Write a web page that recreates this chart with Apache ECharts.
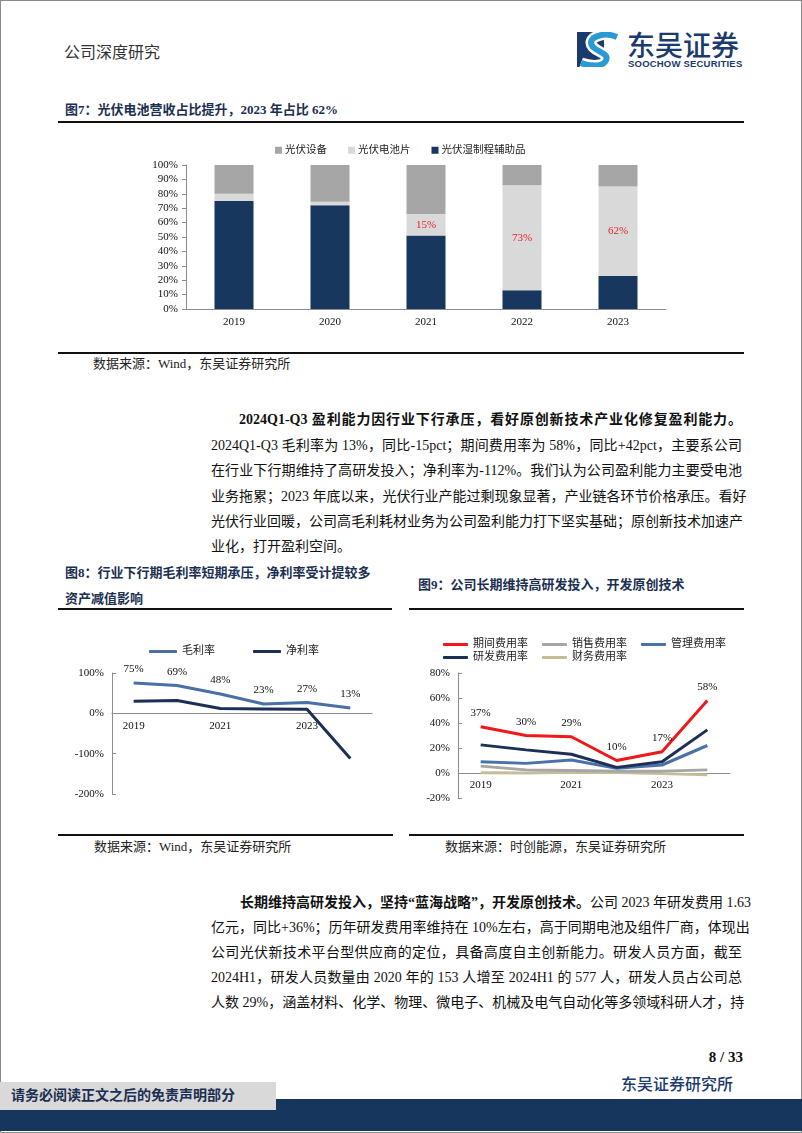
<!DOCTYPE html>
<html><head><meta charset="utf-8">
<script src="https://cdn.jsdelivr.net/npm/echarts@6/dist/echarts.min.js"></script>
<style>
html,body{margin:0;padding:0;background:#fff;}
body{width:802px;height:1133px;position:relative;overflow:hidden;font-family:"Liberation Serif","Times New Roman","Noto Sans CJK SC",serif;color:#111;}
.abs{position:absolute;white-space:nowrap;}
.frame{position:absolute;left:0;top:0;width:800px;height:1131px;border:1px solid #8a8a8a;}
.title{font-weight:bold;color:#1b2f52;font-size:13px;line-height:18px;}
.rule{position:absolute;background:#111;}
.src{font-size:13px;line-height:18px;color:#222;}
.p{position:absolute;left:211px;width:531px;font-size:14px;line-height:20px;white-space:nowrap;text-align:justify;text-align-last:justify;color:#111;}
.p.ind{left:239px;width:503px;}
.p.last{text-align-last:left;}
.chart{position:absolute;}
</style></head>
<body>
<div class="frame"></div>
<!-- header -->
<div class="abs" style="left:64px;top:43px;font-size:16px;line-height:20px;color:#333;">公司深度研究</div>
<svg class="abs" style="left:577px;top:32px" width="44" height="35" viewBox="0 0 44 35">
  <rect x="0" y="0" width="27" height="35" fill="#1b3a6e"/>
  <path d="M40 5 C26 -1 8 6 16 15 C22 21 34 22 28 30 C24 35 12 34 4 31" fill="none" stroke="#ffffff" stroke-width="11"/>
  <path d="M40 5 C26 -1 8 6 16 15 C22 21 34 22 28 30 C24 35 12 34 4 31" fill="none" stroke="#2a9ad6" stroke-width="6"/>
</svg>
<div class="abs" style="left:627px;top:28px;font-size:28px;line-height:32px;color:#1b3a6e;font-family:'Noto Sans CJK SC';font-weight:500;letter-spacing:0px;">东吴证券</div>
<div class="abs" style="left:628px;top:58px;font-size:9.5px;line-height:11px;color:#1b3a6e;font-family:'Liberation Sans',Arial;font-weight:bold;letter-spacing:0.2px;">SOOCHOW SECURITIES</div>

<!-- fig 7 -->
<div class="abs title" style="left:65px;top:101px;">图7：光伏电池营收占比提升，2023 年占比 62%</div>
<div class="rule" style="left:58px;top:121px;width:686px;height:2px;"></div>
<div id="c7" class="chart" style="left:0;top:130px;width:802px;height:210px;"></div>
<div class="rule" style="left:58px;top:352px;width:686px;height:1.5px;"></div>
<div class="abs src" style="left:93px;top:355px;">数据来源：Wind，东吴证券研究所</div>

<!-- paragraph 1 -->
<div class="p ind" style="top:410px;"><b>2024Q1-Q3 盈利能力因行业下行承压，看好原创新技术产业化修复盈利能力。</b></div>
<div class="p" style="top:436px;">2024Q1-Q3 毛利率为 13%，同比-15pct；期间费用率为 58%，同比+42pct，主要系公司</div>
<div class="p" style="top:461px;">在行业下行期维持了高研发投入；净利率为-112%。我们认为公司盈利能力主要受电池</div>
<div class="p" style="top:487px;">业务拖累；2023 年底以来，光伏行业产能过剩现象显著，产业链各环节价格承压。看好</div>
<div class="p" style="top:512px;">光伏行业回暖，公司高毛利耗材业务为公司盈利能力打下坚实基础；原创新技术加速产</div>
<div class="p last" style="top:537px;">业化，打开盈利空间。</div>

<!-- fig 8 / 9 titles -->
<div class="abs title" style="left:65px;top:564px;">图8：行业下行期毛利率短期承压，净利率受计提较多</div>
<div class="abs title" style="left:65px;top:590px;">资产减值影响</div>
<div class="abs title" style="left:418px;top:576px;">图9：公司长期维持高研发投入，开发原创技术</div>
<div class="rule" style="left:58px;top:608px;width:334px;height:1.5px;"></div>
<div class="rule" style="left:409px;top:608px;width:335px;height:1.5px;"></div>
<div id="c8" class="chart" style="left:0;top:620px;width:410px;height:200px;"></div>
<div id="c9" class="chart" style="left:410px;top:620px;width:392px;height:200px;"></div>
<div class="rule" style="left:58px;top:834px;width:335px;height:1.5px;"></div>
<div class="rule" style="left:409px;top:834px;width:335px;height:1.5px;"></div>
<div class="abs src" style="left:94px;top:838px;">数据来源：Wind，东吴证券研究所</div>
<div class="abs src" style="left:445px;top:838px;">数据来源：时创能源，东吴证券研究所</div>

<!-- paragraph 2 -->
<div class="p ind" style="top:893px;left:240px;width:502px;"><b>长期维持高研发投入，坚持“蓝海战略”，开发原创技术。</b>公司 2023 年研发费用 1.63</div>
<div class="p" style="top:918px;">亿元，同比+36%；历年研发费用率维持在 10%左右，高于同期电池及组件厂商，体现出</div>
<div class="p" style="top:943px;">公司光伏新技术平台型供应商的定位，具备高度自主创新能力。研发人员方面，截至</div>
<div class="p" style="top:968px;">2024H1，研发人员数量由 2020 年的 153 人增至 2024H1 的 577 人，研发人员占公司总</div>
<div class="p" style="top:993px;">人数 29%，涵盖材料、化学、物理、微电子、机械及电气自动化等多领域科研人才，持</div>

<!-- footer -->
<div class="abs" style="right:59px;top:1047px;font-size:15px;line-height:20px;font-weight:bold;color:#111;">8 / 33</div>
<div class="abs" style="left:621px;top:1075px;font-size:16px;line-height:20px;color:#1b3a6e;font-weight:500;">东吴证券研究所</div>
<div class="abs" style="left:0;top:1099px;width:802px;height:32px;background:#17365d;"></div>
<div class="abs" style="left:0;top:1082px;width:276px;height:28px;background:#d9d9d9;"></div>
<div class="abs" style="left:11px;top:1086px;font-size:14px;line-height:20px;color:#1b2f52;font-weight:bold;">请务必阅读正文之后的免责声明部分</div>

<script>
// ---------- data ----------
const years7 = ['2019', '2020', '2021', '2022', '2023'];
const wetShare = [75, 72, 51, 13, 23];      // 光伏湿制程辅助品
const cellShare = [5, 2.5, 15, 73, 62];     // 光伏电池片
const equipShare = [20, 25.5, 34, 14, 15];  // 光伏设备
const cellLabelShown = [false, false, true, true, true];

const years8 = ['2019', '2020', '2021', '2022', '2023', '2024Q1-Q3'];
const grossMargin = [75, 69, 48, 23, 27, 13];
const netMargin = [30, 32, 12, 11, 10, -112];
const ticks8 = [-200, 100, 100]; // min, max, interval

const years9 = ['2019', '2020', '2021', '2022', '2023', '2024Q1-Q3'];
const periodRate = [37, 30, 29, 10, 17, 58];
const salesRate = [5.5, 2.5, 2, 1.5, 1.5, 2.5];
const adminRate = [9, 7.7, 10.4, 3.7, 6.4, 22];
const rdRate = [22.5, 18.5, 15, 4.5, 9, 34.5];
const finRate = [0.2, 0, 0.5, 0.3, -0.5, -1.5];
const ticks9 = [-20, 80, 20];

// ---------- style ----------
const FONT = '"Liberation Serif", "Times New Roman", "Noto Sans CJK SC", serif';
const AX = '#8c8c8c';
const txt = { fontFamily: FONT, color: '#111', fontSize: 11 };
// offset that puts a bottom category axis on the value 0 of the value axis
const zeroOffset = (gridH, t) => -gridH * (0 - t[0]) / (t[1] - t[0]);

// ---------- chart 7 ----------
const c7 = echarts.init(document.getElementById('c7'));
c7.setOption({
  animation: false,
  textStyle: { fontFamily: FONT },
  legend: {
    data: ['光伏设备', '光伏电池片', '光伏湿制程辅助品'],
    left: 270, top: 10, itemWidth: 7, itemHeight: 7, itemGap: 21, icon: 'rect',
    textStyle: { fontFamily: FONT, fontSize: 10.5, color: '#222', padding: [0, 0, 0, -2] }
  },
  grid: { left: 186, top: 35, width: 480, height: 144 },
  xAxis: {
    type: 'category', data: years7,
    axisLine: { lineStyle: { color: AX } },
    axisTick: { inside: true, length: 4, lineStyle: { color: AX } },
    axisLabel: Object.assign({ margin: 8 }, txt)
  },
  yAxis: {
    type: 'value', min: 0, max: 100, interval: 10,
    axisLine: { show: true, lineStyle: { color: AX } },
    axisTick: { show: true, length: 4, lineStyle: { color: AX } },
    splitLine: { show: false },
    axisLabel: Object.assign({ formatter: '{value}%', margin: 8 }, txt)
  },
  series: [
    { name: '光伏湿制程辅助品', type: 'bar', stack: 's', data: wetShare, barWidth: 39, itemStyle: { color: '#17375e' } },
    { name: '光伏电池片', type: 'bar', stack: 's', data: cellShare, barWidth: 39, itemStyle: { color: '#d9d9d9' },
      label: { show: true, position: 'inside', fontFamily: FONT, fontSize: 11, color: '#e3262d',
        formatter: p => cellLabelShown[p.dataIndex] ? p.value + '%' : '' } },
    { name: '光伏设备', type: 'bar', stack: 's', data: equipShare, barWidth: 39, itemStyle: { color: '#a6a6a6' } }
  ]
});

// ---------- chart 8 ----------
const c8 = echarts.init(document.getElementById('c8'));
const g8 = { left: 112, top: 53, width: 260, height: 121 };
c8.setOption({
  animation: false,
  legend: {
    data: ['毛利率', '净利率'], left: 144, top: 21, icon: 'roundRect',
    itemWidth: 28, itemHeight: 3, itemGap: 38,
    textStyle: { fontFamily: FONT, fontSize: 11, color: '#222' }
  },
  grid: g8,
  xAxis: {
    type: 'category', data: years8, position: 'bottom', offset: zeroOffset(g8.height, ticks8),
    axisLine: { onZero: false, lineStyle: { color: AX } },
    axisTick: { inside: true, length: 4, interval: 0, lineStyle: { color: AX } },
    axisLabel: Object.assign({ interval: 1, margin: 7 }, txt)
  },
  yAxis: {
    type: 'value', min: ticks8[0], max: ticks8[1], interval: ticks8[2],
    axisLine: { show: true, lineStyle: { color: AX } },
    axisTick: { show: true, inside: true, length: 4, lineStyle: { color: AX } },
    splitLine: { show: false },
    axisLabel: Object.assign({ formatter: '{value}%', margin: 8 }, txt)
  },
  series: [
    { name: '毛利率', type: 'line', data: grossMargin, symbol: 'circle', symbolSize: 0.01, showSymbol: true,
      lineStyle: { width: 3, color: '#4a6fa5' }, itemStyle: { color: '#4a6fa5' },
      label: { show: true, position: 'top', distance: 8, fontFamily: FONT, fontSize: 11, color: '#111', formatter: '{c}%' } },
    { name: '净利率', type: 'line', data: netMargin, symbol: 'none', lineStyle: { width: 3, color: '#1c3055' },
      itemStyle: { color: '#1c3055' } }
  ]
});

// ---------- chart 9 ----------
const c9 = echarts.init(document.getElementById('c9'));
const g9 = { left: 48, top: 53, width: 272, height: 125 };
const legStyle = { fontFamily: FONT, fontSize: 11, color: '#222' };
c9.setOption({
  animation: false,
  legend: [
    { data: ['期间费用率', '销售费用率', '管理费用率'], left: 28, top: 14, icon: 'roundRect', itemWidth: 25, itemHeight: 3, itemGap: 14, textStyle: legStyle },
    { data: ['研发费用率', '财务费用率'], left: 28, top: 27, icon: 'roundRect', itemWidth: 25, itemHeight: 3, itemGap: 14, textStyle: legStyle }
  ],
  grid: g9,
  xAxis: {
    type: 'category', data: years9, position: 'bottom', offset: zeroOffset(g9.height, ticks9),
    axisLine: { onZero: false, lineStyle: { color: AX } },
    axisTick: { inside: true, length: 4, interval: 0, lineStyle: { color: AX } },
    axisLabel: Object.assign({ interval: 1, margin: 7 }, txt)
  },
  yAxis: {
    type: 'value', min: ticks9[0], max: ticks9[1], interval: ticks9[2],
    axisLine: { show: true, lineStyle: { color: AX } },
    axisTick: { show: true, inside: true, length: 4, lineStyle: { color: AX } },
    splitLine: { show: false },
    axisLabel: Object.assign({ formatter: '{value}%', margin: 8 }, txt)
  },
  series: [
    { name: '财务费用率', type: 'line', data: finRate, symbol: 'none', lineStyle: { width: 3, color: '#c4bd97' }, itemStyle: { color: '#c4bd97' } },
    { name: '销售费用率', type: 'line', data: salesRate, symbol: 'none', lineStyle: { width: 3, color: '#a6a6a6' }, itemStyle: { color: '#a6a6a6' } },
    { name: '管理费用率', type: 'line', data: adminRate, symbol: 'none', lineStyle: { width: 3, color: '#4a72a8' }, itemStyle: { color: '#4a72a8' } },
    { name: '研发费用率', type: 'line', data: rdRate, symbol: 'none', lineStyle: { width: 3, color: '#1c3055' }, itemStyle: { color: '#1c3055' } },
    { name: '期间费用率', type: 'line', data: periodRate, symbol: 'circle', symbolSize: 0.01, showSymbol: true,
      lineStyle: { width: 3, color: '#f01818' }, itemStyle: { color: '#f01818' },
      label: { show: true, position: 'top', distance: 8, fontFamily: FONT, fontSize: 11, color: '#111', formatter: '{c}%' } }
  ]
});
</script>
</body></html>
